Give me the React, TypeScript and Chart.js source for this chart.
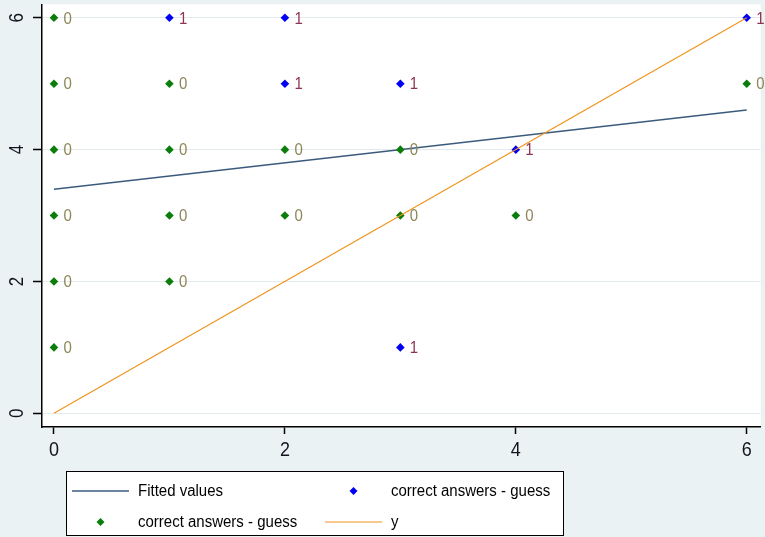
import React, { useEffect, useRef } from "react";
import { Chart, registerables } from "chart.js";

Chart.register(...registerables);

// ---- data ----
const greenX = [0, 0, 0, 0, 0, 0, 1, 1, 1, 1, 2, 2, 3, 3, 4, 6];
const greenY = [6, 5, 4, 3, 2, 1, 5, 4, 3, 2, 4, 3, 4, 3, 3, 5];
const greenLabels = ["0", "0", "0", "0", "0", "0", "0", "0", "0", "0", "0", "0", "0", "0", "0", "0"];

const blueX = [1, 2, 2, 3, 3, 4, 6];
const blueY = [6, 6, 5, 5, 1, 4, 6];
const blueLabels = ["1", "1", "1", "1", "1", "1", "1"];

const fittedX = [0, 6];
const fittedY = [3.4, 4.6];

const identX = [0, 6];
const identY = [0, 6];

const xTicks = [0, 2, 4, 6];
const yTicks = [0, 2, 4, 6];

const seriesNames = ["Fitted values", "correct answers - guess", "correct answers - guess", "y"];

// ---- styles ----
const FONT = "'Liberation Sans', Arial, Helvetica, sans-serif";
const OUTER_BG = "#eaf2f3";
const GRID = "#e2eaed";
const C_FIT = "#3b5b7d";
const C_BLUE = "#0000f4";
const C_GREEN = "#0a7d0a";
const C_ORANGE = "#f0941e";
const C_LAB0 = "#8c8658";
const C_LAB1 = "#8e3552";
const C_TICK = "#141420";

const toPts = (xs: number[], ys: number[]) => xs.map((x, i) => ({ x, y: ys[i] }));

// draw text stretched vertically around (x, y) (middle baseline)
function stretchedText(ctx: CanvasRenderingContext2D, text: string, x: number, y: number, sy: number) {
  ctx.save();
  ctx.translate(x, y);
  ctx.scale(1, sy);
  ctx.fillText(text, 0, 0);
  ctx.restore();
}

const bgPlugin = {
  id: "bgPlugin",
  beforeDraw(chart: any) {
    const { ctx, width, height, chartArea: a } = chart;
    ctx.save();
    ctx.fillStyle = OUTER_BG;
    ctx.fillRect(0, 0, width, height);
    ctx.fillStyle = "#ffffff";
    ctx.fillRect(a.left, a.top, a.right - a.left, a.bottom - a.top);
    ctx.restore();
  },
};

const axisLabelPlugin = {
  id: "axisLabelPlugin",
  afterDraw(chart: any) {
    const ctx = chart.ctx;
    const sy = chart.scales.y;
    const sx = chart.scales.x;
    ctx.save();
    ctx.fillStyle = C_TICK;
    ctx.textAlign = "center";
    ctx.textBaseline = "middle";
    ctx.font = `17px ${FONT}`;
    for (const t of sy.ticks) {
      const py = sy.getPixelForValue(t.value);
      ctx.save();
      ctx.translate(16.5, py);
      ctx.rotate(-Math.PI / 2);
      ctx.scale(1, 1.2);
      ctx.fillText(String(t.value), 0, 0.5);
      ctx.restore();
    }
    ctx.font = `18px ${FONT}`;
    for (const t of sx.ticks) {
      const px = sx.getPixelForValue(t.value);
      stretchedText(ctx, String(t.value), px, 450.5, 1.1);
    }
    ctx.restore();
  },
};

const pointLabelPlugin = {
  id: "pointLabelPlugin",
  afterDatasetsDraw(chart: any) {
    const ctx = chart.ctx;
    ctx.save();
    ctx.font = `15px ${FONT}`;
    ctx.textAlign = "left";
    ctx.textBaseline = "middle";
    chart.data.datasets.forEach((ds: any, di: number) => {
      if (!ds.markerLabels) return;
      const meta = chart.getDatasetMeta(di);
      ctx.fillStyle = ds.markerLabelColor;
      meta.data.forEach((el: any, i: number) => {
        stretchedText(ctx, ds.markerLabels[i], el.x + 9.5, el.y + 1, 1.15);
      });
    });
    ctx.restore();
  },
};

const legendPlugin = {
  id: "stataLegend",
  afterDraw(chart: any) {
    const ctx = chart.ctx;
    const ds = chart.data.datasets;
    ctx.save();
    ctx.fillStyle = "#ffffff";
    ctx.fillRect(66, 471, 497, 65);
    ctx.strokeStyle = "#000000";
    ctx.lineWidth = 1;
    ctx.strokeRect(66.5, 471.5, 497, 64);

    const slots = [
      { sx: 72, ex: 129, tx: 138, y: 491 },
      { sx: 325, ex: 382, tx: 391, y: 491 },
      { sx: 72, ex: 129, tx: 138, y: 522 },
      { sx: 325, ex: 382, tx: 391, y: 522 },
    ];
    ds.forEach((d: any, i: number) => {
      const s = slots[i];
      if (d.showLine) {
        ctx.strokeStyle = d.borderColor;
        ctx.lineWidth = d.borderWidth;
        ctx.beginPath();
        ctx.moveTo(s.sx, s.y);
        ctx.lineTo(s.ex, s.y);
        ctx.stroke();
      } else {
        const cx = (s.sx + s.ex) / 2;
        const r = 4;
        ctx.fillStyle = d.pointBackgroundColor;
        ctx.beginPath();
        ctx.moveTo(cx, s.y - r);
        ctx.lineTo(cx + r, s.y);
        ctx.lineTo(cx, s.y + r);
        ctx.lineTo(cx - r, s.y);
        ctx.closePath();
        ctx.fill();
      }
      ctx.fillStyle = "#000000";
      ctx.font = `15px ${FONT}`;
      ctx.textAlign = "left";
      ctx.textBaseline = "middle";
      stretchedText(ctx, d.label, s.tx, s.y + 0.5, 1.15);
    });
    ctx.restore();
  },
};

export default function App() {
  const ref = useRef<HTMLCanvasElement | null>(null);

  useEffect(() => {
    if (!ref.current) return;
    const chart = new Chart(ref.current, {
      type: "scatter",
      data: {
        datasets: [
          {
            label: seriesNames[0],
            type: "line",
            data: toPts(fittedX, fittedY),
            showLine: true,
            borderColor: C_FIT,
            borderWidth: 1.5,
            pointRadius: 0,
            fill: false,
            order: 4,
          } as any,
          {
            label: seriesNames[1],
            data: toPts(blueX, blueY),
            showLine: false,
            pointStyle: "rectRot",
            pointRadius: 4.3,
            pointBackgroundColor: C_BLUE,
            pointBorderColor: C_BLUE,
            pointBorderWidth: 0,
            markerLabels: blueLabels,
            markerLabelColor: C_LAB1,
            order: 3,
          } as any,
          {
            label: seriesNames[2],
            data: toPts(greenX, greenY),
            showLine: false,
            pointStyle: "rectRot",
            pointRadius: 4.3,
            pointBackgroundColor: C_GREEN,
            pointBorderColor: C_GREEN,
            pointBorderWidth: 0,
            markerLabels: greenLabels,
            markerLabelColor: C_LAB0,
            order: 2,
          } as any,
          {
            label: seriesNames[3],
            type: "line",
            data: toPts(identX, identY),
            showLine: true,
            borderColor: C_ORANGE,
            borderWidth: 1.2,
            pointRadius: 0,
            fill: false,
            order: 1,
          } as any,
        ],
      },
      options: {
        responsive: false,
        animation: false,
        devicePixelRatio: 1,
        layout: { padding: { top: 4, right: 3, bottom: 0, left: 0 } },
        plugins: {
          legend: { display: false },
          tooltip: { enabled: false },
          title: { display: false },
        },
        scales: {
          x: {
            type: "linear",
            min: -0.1036,
            max: 6.121,
            afterBuildTicks: (s: any) => {
              s.ticks = xTicks.map((v) => ({ value: v }));
            },
            afterFit: (s: any) => {
              s.height = 110;
            },
            grid: {
              drawOnChartArea: false,
              drawTicks: true,
              tickLength: 7,
              tickColor: "#000000",
              tickWidth: 1.5,
            },
            border: { display: true, color: "#000000", width: 1.5 },
            ticks: { display: false },
          },
          y: {
            type: "linear",
            min: -0.208,
            max: 6.205,
            afterBuildTicks: (s: any) => {
              s.ticks = yTicks.map((v) => ({ value: v }));
            },
            afterFit: (s: any) => {
              s.width = 42;
            },
            grid: {
              color: GRID,
              lineWidth: 1,
              drawTicks: true,
              tickLength: 9,
              tickColor: "#000000",
              tickWidth: 1.5,
            },
            border: { display: true, color: "#000000", width: 1.5 },
            ticks: { display: false },
          },
        },
      } as any,
      plugins: [bgPlugin, pointLabelPlugin, axisLabelPlugin, legendPlugin],
    });
    return () => chart.destroy();
  }, []);

  return (
    <div style={{ position: "fixed", left: 0, top: 0, width: 765, height: 537, background: OUTER_BG }}>
      <canvas ref={ref} width={765} height={537} style={{ display: "block", width: 765, height: 537 }} />
    </div>
  );
}
